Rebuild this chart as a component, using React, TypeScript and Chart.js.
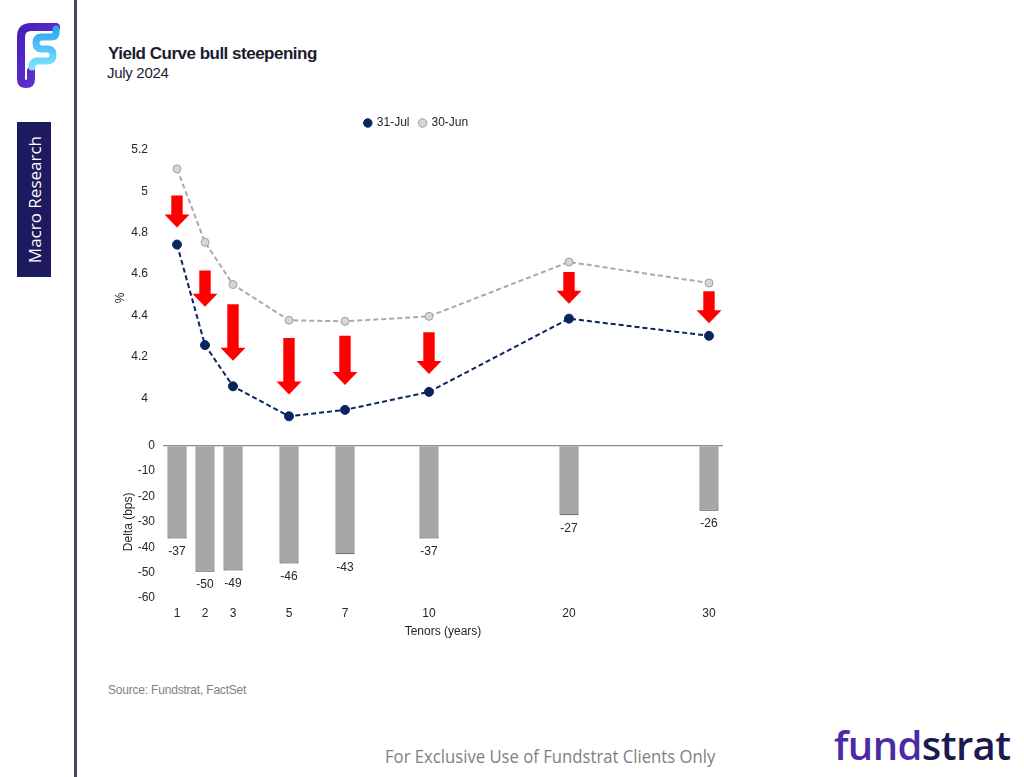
import React, { useEffect, useRef } from 'react';
import { Chart, registerables } from 'chart.js';

Chart.register(...registerables);

// Axis slots of the tenor axis (1-year steps to 10y, then 2-year steps)
const axisSlots = ['1', '2', '3', '4', '5', '6', '7', '8', '9', '10', '12', '14', '16', '18', '20', '22', '24', '26', '28', '30'];
const tenors = ['1', '2', '3', '5', '7', '10', '20', '30'];
const seriesNames = ['31-Jul', '30-Jun'];
const yieldsJul31 = [4.743, 4.257, 4.058, 3.913, 3.944, 4.031, 4.385, 4.302];
const yieldsJun30 = [5.109, 4.754, 4.55, 4.377, 4.372, 4.396, 4.659, 4.557];
const deltaBps = [-36.6, -49.7, -49.2, -46.4, -42.8, -36.6, -27.4, -25.6];
// Red arrow annotations (start / tip, in % yield)
const arrowFrom = [4.98, 4.618, 4.454, 4.291, 4.302, 4.319, 4.61, 4.517];
const arrowTo = [4.826, 4.443, 4.181, 4.018, 4.064, 4.117, 4.457, 4.363];
const yieldTicks = [4, 4.2, 4.4, 4.6, 4.8, 5, 5.2];
const deltaTicks = [0, -10, -20, -30, -40, -50, -60];

const FONT = '"Liberation Sans", Arial, sans-serif';
const TICK_COLOR = '#262626';

const arrowPlugin = {
  id: 'shiftArrows',
  afterDatasetsDraw(chart: any) {
    const { ctx } = chart;
    const xs = chart.scales.x;
    const ys = chart.scales.yLine;
    ctx.save();
    ctx.fillStyle = '#ff0000';
    const shaft = 5.7;
    const head = 12.5;
    const headLen = 13;
    tenors.forEach((t, i) => {
      const x = xs.getPixelForValue(axisSlots.indexOf(t));
      const y0 = ys.getPixelForValue(arrowFrom[i]);
      const y1 = ys.getPixelForValue(arrowTo[i]);
      ctx.beginPath();
      ctx.moveTo(x - shaft, y0);
      ctx.lineTo(x + shaft, y0);
      ctx.lineTo(x + shaft, y1 - headLen);
      ctx.lineTo(x + head, y1 - headLen);
      ctx.lineTo(x, y1);
      ctx.lineTo(x - head, y1 - headLen);
      ctx.lineTo(x - shaft, y1 - headLen);
      ctx.closePath();
      ctx.fill();
    });
    ctx.restore();
  },
};

const barLabelPlugin = {
  id: 'barLabels',
  afterDatasetsDraw(chart: any) {
    const { ctx } = chart;
    const meta = chart.getDatasetMeta(2);
    ctx.save();
    ctx.font = `12px ${FONT}`;
    ctx.fillStyle = TICK_COLOR;
    ctx.textAlign = 'center';
    ctx.textBaseline = 'middle';
    meta.data.forEach((bar: any, i: number) => {
      ctx.fillText(String(Math.round(deltaBps[i])), bar.x, bar.y + 13);
    });
    ctx.restore();
  },
};

// Extra room under the legend and a small horizontal nudge
const legendSpacingPlugin = {
  id: 'legendSpacing',
  afterInit(chart: any) {
    const lg = chart.legend;
    if (lg && !lg._spaced) {
      const orig = lg.fit.bind(lg);
      lg.fit = () => {
        orig();
        lg.height += 11;
      };
      lg._spaced = true;
    }
  },
  afterLayout(chart: any) {
    if (chart.legend) {
      chart.legend.left += 5;
      chart.legend.right += 5;
    }
  },
};

function YieldChart() {
  const ref = useRef<HTMLCanvasElement>(null);
  useEffect(() => {
    if (!ref.current) return;
    const chart = new Chart(ref.current, {
      type: 'line',
      data: {
        labels: axisSlots,
        datasets: [
          {
            type: 'line',
            label: seriesNames[0],
            data: tenors.map((t, i) => ({ x: t, y: yieldsJul31[i] })) as any,
            yAxisID: 'yLine',
            xAxisID: 'x',
            borderColor: '#0b2361',
            backgroundColor: '#0b2361',
            borderWidth: 2,
            borderDash: [5, 3],
            pointRadius: 4.5,
            pointBackgroundColor: '#0b2361',
            pointBorderColor: '#0b2361',
            pointBorderWidth: 1,
            tension: 0,
            clip: false as any,
          },
          {
            type: 'line',
            label: seriesNames[1],
            data: tenors.map((t, i) => ({ x: t, y: yieldsJun30[i] })) as any,
            yAxisID: 'yLine',
            xAxisID: 'x',
            borderColor: '#aaaaaa',
            backgroundColor: '#d6d6d6',
            borderWidth: 2,
            borderDash: [5, 3],
            pointRadius: 4,
            pointBackgroundColor: '#d6d6d6',
            pointBorderColor: '#a0a0a0',
            pointBorderWidth: 1,
            tension: 0,
            clip: false as any,
          },
          {
            type: 'bar',
            label: 'Delta',
            data: tenors.map((t, i) => ({ x: t, y: deltaBps[i] })) as any,
            yAxisID: 'yBar',
            xAxisID: 'x',
            backgroundColor: '#a6a6a6',
            borderColor: '#3c3c3c',
            borderWidth: 1,
            barPercentage: 0.68,
            categoryPercentage: 1,
          } as any,
        ],
      },
      options: {
        animation: false,
        responsive: false,
        layout: { padding: { left: 0, right: 17, top: 7, bottom: 0 } },
        plugins: {
          legend: {
            display: true,
            position: 'top',
            labels: {
              usePointStyle: true,
              pointStyle: 'circle',
              boxWidth: 6,
              boxHeight: 6,
              padding: 10,
              color: TICK_COLOR,
              font: { family: FONT, size: 12 },
              filter: (item: any) => item.datasetIndex !== 2,
            },
          },
          tooltip: { enabled: false },
        },
        scales: {
          x: {
            type: 'category',
            offset: true,
            afterFit: (s: any) => {
              s.height = 52;
            },
            grid: { display: false, drawTicks: false },
            border: { display: false },
            ticks: {
              autoSkip: false,
              maxRotation: 0,
              padding: 8,
              color: TICK_COLOR,
              font: { family: FONT, size: 12 },
              callback: (v: any) => (tenors.includes(axisSlots[v]) ? axisSlots[v] : ''),
            },
            title: {
              display: true,
              text: 'Tenors (years)',
              color: TICK_COLOR,
              font: { family: FONT, size: 12 },
              padding: { top: 0, bottom: 11 },
            },
          },
          yBar: {
            type: 'linear',
            position: 'left',
            stack: 'panels',
            stackWeight: 153,
            min: -60,
            max: 0,
            afterBuildTicks: (axis: any) => {
              axis.ticks = deltaTicks.map((v) => ({ value: v }));
            },
            afterFit: (s: any) => {
              s.width = 63;
            },
            grid: {
              display: true,
              drawTicks: false,
              color: (c: any) => (c.tick && c.tick.value === 0 ? '#8c8c8c' : 'rgba(0,0,0,0)'),
              lineWidth: 1.2,
            },
            border: { display: false },
            ticks: {
              autoSkip: false,
              padding: 8,
              color: TICK_COLOR,
              font: { family: FONT, size: 12 },
            },
            title: {
              display: true,
              text: 'Delta (bps)',
              color: TICK_COLOR,
              font: { family: FONT, size: 12 },
              padding: { top: 21.8, bottom: 0 },
            },
          },
          yLine: {
            type: 'linear',
            position: 'left',
            stack: 'panels',
            stackWeight: 297,
            min: 3.771,
            max: 5.2,
            afterBuildTicks: (axis: any) => {
              axis.ticks = yieldTicks.map((v) => ({ value: v }));
            },
            afterFit: (s: any) => {
              s.width = 63;
            },
            grid: { display: false, drawTicks: false },
            border: { display: false },
            ticks: {
              autoSkip: false,
              padding: 15,
              color: TICK_COLOR,
              font: { family: FONT, size: 12 },
              callback: (v: any) => String(Math.round(v * 10) / 10),
            },
            title: {
              display: true,
              text: '%',
              color: TICK_COLOR,
              font: { family: FONT, size: 12 },
              padding: { top: 13.8, bottom: 0 },
            },
          },
        },
      } as any,
      plugins: [arrowPlugin, barLabelPlugin, legendSpacingPlugin],
    });
    return () => chart.destroy();
  }, []);
  return <canvas ref={ref} width={640} height={550} style={{ width: 640, height: 550, display: 'block' }} />;
}

function Logo() {
  return (
    <svg width={70} height={80} viewBox="0 0 70 80" style={{ position: 'absolute', left: 5, top: 15 }}>
      <defs>
        <linearGradient id="pg" x1="0" y1="0" x2="1" y2="1">
          <stop offset="0" stopColor="#4a1fb8" />
          <stop offset="1" stopColor="#6a35d8" />
        </linearGradient>
        <linearGradient id="cg" x1="0" y1="0" x2="0" y2="1">
          <stop offset="0" stopColor="#2aa6f0" />
          <stop offset="1" stopColor="#7fe0ff" />
        </linearGradient>
      </defs>
      <path d="M51 12 H26 Q16 12 16 22 V64 Q16 69 21 69 Q26 69 26 64 V56"
        fill="none" stroke="url(#pg)" strokeWidth={8} strokeLinecap="round" strokeLinejoin="round" />
      <path d="M51 14 V18 Q51 22 46 22 H37 Q31 22 31 28 Q31 34 37 34 H42 Q48 34 48 40 Q48 46 42 46 H33 Q27 46 27 52"
        fill="none" stroke="url(#cg)" strokeWidth={7} strokeLinecap="round" strokeLinejoin="round" />
    </svg>
  );
}

export default function App() {
  return (
    <div style={{ position: 'absolute', left: 0, top: 0, width: 1024, height: 777, background: '#fff', overflow: 'hidden', fontFamily: FONT }}>
      <Logo />
      <div style={{ position: 'absolute', left: 74, top: 0, width: 3, height: 777, background: '#4b4659' }} />
      <div style={{ position: 'absolute', left: 17, top: 122, width: 34, height: 155, background: '#1d1a5f', display: 'flex', alignItems: 'center', justifyContent: 'center' }}>
        <div style={{ writingMode: 'vertical-rl', transform: 'rotate(180deg)', color: '#fff', fontFamily: '"Open Sans", sans-serif', fontSize: 17, whiteSpace: 'nowrap' }}>Macro Research</div>
      </div>
      <div style={{ position: 'absolute', left: 108, top: 44, fontSize: 17, lineHeight: '20px', fontWeight: 'bold', color: '#1c1c2e', letterSpacing: -0.5, whiteSpace: 'nowrap' }}>Yield Curve bull steepening</div>
      <div style={{ position: 'absolute', left: 107, top: 64, fontSize: 15, lineHeight: '18px', color: '#1c1c2e', letterSpacing: -0.3, whiteSpace: 'nowrap' }}>July 2024</div>
      <div style={{ position: 'absolute', left: 100, top: 100, width: 640, height: 550 }}>
        <YieldChart />
      </div>
      <div style={{ position: 'absolute', left: 108, top: 683, fontSize: 12, lineHeight: '14px', color: '#7f7f7f', letterSpacing: -0.2, whiteSpace: 'nowrap' }}>Source: Fundstrat, FactSet</div>
      <div style={{ position: 'absolute', left: 385, top: 744, fontSize: 18, lineHeight: '24px', color: '#7f7f7f', fontFamily: '"Open Sans", sans-serif', whiteSpace: 'nowrap', transform: 'scaleX(0.927)', transformOrigin: 'left center' }}>For Exclusive Use of Fundstrat Clients Only</div>
      <div style={{ position: 'absolute', left: 834, top: 721, fontSize: 40, lineHeight: '48px', fontFamily: '"Open Sans", sans-serif', fontWeight: 600, letterSpacing: -0.6, whiteSpace: 'nowrap' }}>
        <span style={{ color: '#4b2aa6' }}>fund</span><span style={{ color: '#1b1a50' }}>strat</span>
      </div>
    </div>
  );
}
